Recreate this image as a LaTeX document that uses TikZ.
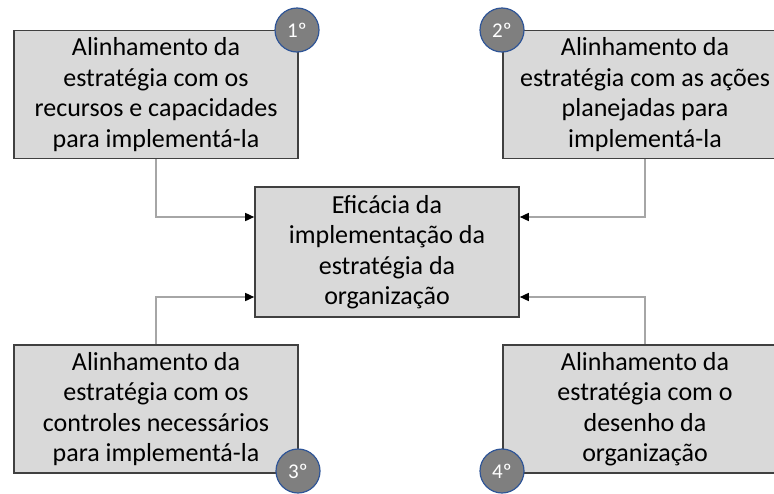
\documentclass[tikz,border=0pt]{standalone}
\usepackage{fontspec}
\setmainfont{Carlito}
\usetikzlibrary{arrows.meta,positioning}
\definecolor{boxgray}{HTML}{D9D9D9}
\definecolor{edgegray}{HTML}{404040}
\definecolor{linegray}{HTML}{A6A6A6}
\definecolor{badgegray}{HTML}{7F7F7F}
\definecolor{badgeblue}{HTML}{2F5597}
\begin{document}
\begin{tikzpicture}[x=1pt,y=-1pt]
    % Define styles for nodes and arrows
    \tikzstyle{aligned} = [rectangle, minimum width=284pt, minimum height=128pt, text centered, align=center, fill=boxgray, draw=edgegray, line width=1.6pt, inner sep=0pt, font=\fontsize{26}{30.5}\selectfont]
    \tikzstyle{goal} = [aligned, minimum width=264pt, minimum height=130pt]
    \tikzstyle{badge} = [circle, minimum size=44pt, inner sep=0pt, fill=badgegray, draw=badgeblue, line width=1.2pt, text=white, font=\fontsize{21}{21}\selectfont]
    \tikzstyle{arrow} = [draw=linegray, line width=1.5pt, -{Triangle[length=9pt,width=8pt,black]}]
    \clip (0,0) rectangle (774,493);
    % Nodes
    \node (goal) [goal] at (387,252) {Eficácia da\\implementação da\\estratégia da\\organização};
    \node (recursos) [aligned] at (156,94.5) {Alinhamento da\\estratégia com os\\recursos e capacidades\\para implementá-la};
    \node (acoes) [aligned] at (645,94.5) {Alinhamento da\\estratégia com as ações\\planejadas para\\implementá-la};
    \node (controles) [aligned] at (156,409) {Alinhamento da\\estratégia com os\\controles necessários\\para implementá-la};
    \node (desenho) [aligned] at (645,409) {Alinhamento da\\estratégia com o\\desenho da\\organização};
    % Order badges
    \node (first) [badge] at (297,30) {1º};
    \node (second) [badge] at (502,30) {2º};
    \node (third) [badge] at (298,471) {3º};
    \node (fourth) [badge] at (502,471) {4º};
    % Arrows (connections)
    \draw [arrow] (recursos.south) |- ([yshift=35pt]goal.west);
    \draw [arrow] (acoes.south) |- ([yshift=35pt]goal.east);
    \draw [arrow] (controles.north) |- ([yshift=-45pt]goal.west);
    \draw [arrow] (desenho.north) |- ([yshift=-45pt]goal.east);
\end{tikzpicture}
\end{document}
